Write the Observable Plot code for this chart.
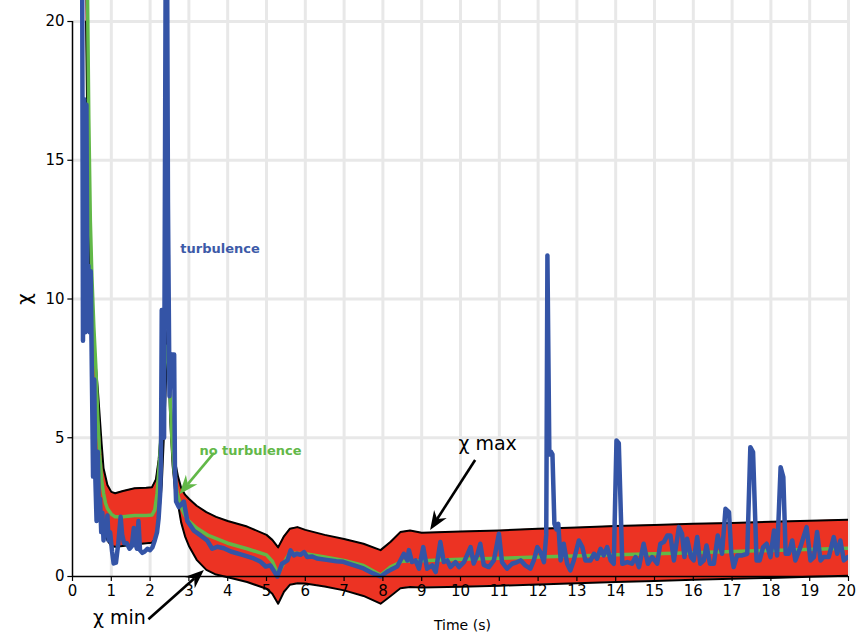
<!DOCTYPE html>
<html><head><meta charset="utf-8">
<script src="https://cdn.jsdelivr.net/npm/d3@7"></script>
<script src="https://cdn.jsdelivr.net/npm/@observablehq/plot@0.6"></script>
<style>body{margin:0;background:#fff;} #chart svg{font-family:"DejaVu Sans",sans-serif;}</style>
</head><body><div id="chart"></div>
<script>
// χ band (min / max envelopes)
const bandX  = [0.35,0.4,0.45,0.5,0.55,0.6,0.65,0.7,0.75,0.8,0.9,1.0,1.1,1.3,1.6,1.9,2.05,2.15,2.22,2.3,2.36,2.42,2.45,2.48,2.52,2.58,2.65,2.72,2.8,2.9,3.0,3.2,3.45,3.7,4.0,4.5,5.0,5.15,5.3,5.45,5.6,5.8,6.0,6.5,7.0,7.5,7.94,8.2,8.45,8.7,9.0,10,11,12,13,14,15,16,17,18,19,20];
const chiMax = [22,17,13,10.5,8.8,7.6,6.8,5.8,4.8,3.9,3.3,3.05,3.0,3.08,3.18,3.2,3.22,3.5,4.2,5.6,7.2,8.6,8.9,8.3,6.6,5.0,4.1,3.6,3.2,2.95,2.8,2.55,2.32,2.15,2.0,1.8,1.5,1.32,1.05,1.45,1.72,1.78,1.68,1.5,1.35,1.18,0.95,1.25,1.6,1.66,1.58,1.62,1.66,1.72,1.77,1.82,1.86,1.9,1.93,1.97,2.01,2.05];
const chiMin = [20,14,10,7.0,5.0,3.6,2.8,2.2,1.85,1.6,1.3,1.1,1.07,1.1,1.15,1.2,1.22,1.4,2.0,3.3,5.2,7.4,8.0,7.3,5.6,4.0,3.0,2.6,1.95,1.45,1.1,0.6,0.24,0.07,-0.03,-0.2,-0.44,-0.62,-0.98,-0.55,-0.3,-0.24,-0.25,-0.36,-0.5,-0.7,-0.98,-0.7,-0.42,-0.38,-0.4,-0.37,-0.33,-0.29,-0.24,-0.2,-0.16,-0.12,-0.08,-0.05,-0.01,0.03];

// no turbulence
const noTurbX = [0.38,0.42,0.46,0.5,0.55,0.6,0.65,0.7,0.75,0.8,0.85,0.9,1.0,1.1,1.3,1.6,1.9,2.05,2.12,2.18,2.25,2.32,2.38,2.44,2.5,2.56,2.62,2.7,2.8,2.9,3.0,3.2,3.5,4.0,4.5,5.0,5.15,5.3,5.45,5.6,6.0,6.5,7.0,7.5,7.94,8.2,8.5,9,10,12,14,16,18,20];
const noTurbY = [22,16.5,12.8,10.8,9.0,7.6,5.8,4.4,3.5,3.0,2.65,2.45,2.25,2.15,2.15,2.2,2.2,2.22,2.4,3.0,4.3,6.2,7.8,8.3,7.0,5.0,3.8,3.0,2.5,2.2,2.0,1.75,1.48,1.2,1.0,0.78,0.55,0.08,0.5,0.85,0.82,0.7,0.58,0.4,0.05,0.35,0.55,0.57,0.62,0.7,0.78,0.86,0.94,1.02];

// turbulence
const turbX = [0.25,0.27,0.30,0.33,0.36,0.38,0.41,0.44,0.47,0.50,0.53,0.56,0.59,0.62,0.65,0.68,0.71,0.74,0.77,0.80,0.84,0.87,0.90,0.93,0.97,1.02,1.06,1.12,1.18,1.24,1.28,1.33,1.40,1.47,1.53,1.58,1.62,1.66,1.70,1.74,1.80,1.86,1.93,2.00,2.06,2.12,2.18,2.22,2.26,2.28,2.30,2.34,2.36,2.40,2.44,2.46,2.50,2.55,2.62,2.64,2.67,2.74,2.80,2.87,2.96,3.13,3.30,3.47,3.60,3.73,3.90,4.08,4.40,4.67,4.85,4.98,5.10,5.28,5.40,5.54,5.62,5.70,5.78,5.88,5.97,6.05,6.18,6.30,6.55,6.80,6.98,7.24,7.50,7.75,7.94,8.11,8.20,8.37,8.54,8.63,8.67,8.75,8.84,8.93,9.04,9.14,9.27,9.36,9.48,9.57,9.66,9.74,9.87,9.96,10.09,10.26,10.34,10.43,10.51,10.60,10.73,10.86,10.99,11.07,11.20,11.33,11.46,11.55,11.67,11.80,11.89,11.98,12.06,12.15,12.21,12.24,12.29,12.33,12.37,12.42,12.47,12.52,12.58,12.66,12.75,12.83,12.92,13.05,13.14,13.22,13.35,13.44,13.52,13.61,13.69,13.78,13.87,13.95,14.02,14.08,14.17,14.30,14.42,14.51,14.60,14.72,14.83,14.94,15.07,15.15,15.24,15.33,15.41,15.50,15.63,15.71,15.77,15.84,15.94,16.01,16.10,16.18,16.27,16.34,16.43,16.53,16.63,16.74,16.83,16.92,16.98,17.04,17.13,17.26,17.39,17.47,17.54,17.63,17.71,17.80,17.89,17.99,18.08,18.16,18.25,18.32,18.38,18.46,18.55,18.63,18.76,18.92,19.02,19.11,19.19,19.28,19.36,19.49,19.62,19.71,19.79,19.88,19.98];
const turbY = [21.5,8.5,17.2,8.8,17.0,10.6,11.2,8.8,11.0,7.2,3.6,7.1,3.5,2.0,4.5,2.4,2.8,1.6,2.3,1.3,1.8,1.5,2.2,1.3,1.6,0.9,0.47,0.5,1.2,2.15,1.5,1.2,1.2,1.0,1.1,1.75,1.2,1.0,2.0,0.95,0.85,0.9,1.0,0.95,1.05,1.3,1.6,2.1,3.0,4.2,9.6,9.6,5.0,21.5,21.5,13.5,6.5,8.0,8.0,3.9,2.7,2.5,2.6,2.7,2.0,1.65,1.48,1.3,1.0,1.07,1.02,0.9,0.77,0.65,0.53,0.36,0.40,0.0,0.46,0.58,0.94,0.76,0.82,0.78,0.88,0.70,0.72,0.65,0.60,0.55,0.53,0.41,0.29,0.11,0.0,0.17,0.24,0.36,0.82,0.58,0.95,0.52,0.58,0.28,1.06,0.28,0.40,0.16,1.24,0.52,0.58,0.34,0.52,0.34,0.52,1.06,0.47,0.76,1.18,0.42,0.34,0.58,1.54,0.52,0.28,0.46,0.52,0.58,0.40,0.28,0.58,1.06,0.88,0.52,1.5,11.57,4.4,4.5,4.4,1.9,1.7,1.9,0.58,1.18,0.46,0.22,0.58,1.3,1.06,0.58,0.58,0.82,0.64,1.0,0.76,1.06,0.58,0.46,4.9,4.8,0.46,0.52,0.46,0.7,0.34,1.18,0.46,0.7,0.46,1.18,1.24,1.48,1.48,0.58,1.78,1.54,0.7,1.36,0.7,0.58,1.42,0.46,0.58,1.12,0.46,0.46,1.48,0.82,2.44,2.32,0.82,0.34,0.76,0.76,0.82,4.66,4.48,0.58,0.58,1.06,1.18,0.7,1.66,0.76,3.94,3.58,0.82,0.82,1.3,0.58,1.06,1.78,0.58,0.7,1.6,0.58,0.7,0.7,1.42,0.82,1.3,0.58,0.7];

// axes
const xTicks = [0,1,2,3,4,5,6,7,8,9,10,11,12,13,14,15,16,17,18,19,20];
const yTicks = [0,5,10,15,20];
const xGrid = [1,2,3,4,5,6,7,8,9,10,11,12,13,14,15,16,17,18,19,20];
const yGrid = [5,10,15,20];

// annotations
const notes = [
  {text:"turbulence", x:2.78, y:11.82, color:"#3d5aa8"},
  {text:"no turbulence", x:3.27, y:4.54, color:"#62b848"}
];
const bigNotes = [
  {text:"χ max", x:10.70, y:4.79},
  {text:"χ min", x:1.21, y:-1.51}
];
const arrows = [
  {x1:10.39, y1:4.18, x2:9.23, y2:1.66, color:"black"},
  {x1:1.97, y1:-1.56, x2:3.40, y2:0.22, color:"black"},
  {x1:3.66, y1:4.44, x2:2.77, y2:2.95, color:"#62b848"}
];

const band = bandX.map((x,i)=>({x, lo: chiMin[i], hi: chiMax[i]}));
const noTurb = noTurbX.map((x,i)=>({x, y: noTurbY[i]}));
const turb = turbX.map((x,i)=>({x, y: turbY[i]}));

const yTop = 20.757, yBottom = -2.126;

// arrows with filled heads, positioned through the plot's own scales
function arrowMark(index, scales) {
  const g = d3.create("svg:g");
  for (const a of arrows) {
    const x1 = scales.x(a.x1), y1 = scales.y(a.y1), x2 = scales.x(a.x2), y2 = scales.y(a.y2);
    const dx = x2 - x1, dy = y2 - y1, len = Math.hypot(dx, dy);
    const ux = dx / len, uy = dy / len, px = -uy, py = ux;
    const L = 19, W = 7.5, N = 13;
    const bx = x2 - ux * L, by = y2 - uy * L;
    const nx = x2 - ux * N, ny = y2 - uy * N;
    g.append("line").attr("x1", x1).attr("y1", y1).attr("x2", nx).attr("y2", ny)
      .attr("stroke", a.color).attr("stroke-width", 2.6);
    g.append("path")
      .attr("d", `M${x2},${y2}L${bx + px * W},${by + py * W}L${nx},${ny}L${bx - px * W},${by - py * W}Z`)
      .attr("fill", a.color);
  }
  return g.node();
}

const plot = Plot.plot({
  width: 856, height: 635,
  marginLeft: 72, marginRight: 8, marginTop: 0, marginBottom: 0,
  x: {domain: [0, 20], axis: null},
  y: {domain: [yBottom, yTop], axis: null},
  style: {fontFamily: "'DejaVu Sans', sans-serif", fontSize: "15px", background: "#fff", color: "black"},
  marks: [
    Plot.ruleX(xGrid, {x: d=>d, y1: 0, y2: yTop, stroke: "#e8e8e8", strokeWidth: 3}),
    Plot.ruleY(yGrid, {y: d=>d, x1: 0, x2: 20, stroke: "#e8e8e8", strokeWidth: 3}),
    Plot.areaY(band, {x: "x", y1: "lo", y2: "hi", fill: "#ec3323", clip: true}),
    Plot.line(band, {x: "x", y: "hi", stroke: "black", strokeWidth: 2, clip: true}),
    Plot.line(band, {x: "x", y: "lo", stroke: "black", strokeWidth: 2, clip: true}),
    Plot.line(noTurb, {x: "x", y: "y", stroke: "#62b848", strokeWidth: 3.5, clip: true}),
    Plot.line(turb, {x: "x", y: "y", stroke: "#3454a6", strokeWidth: 4.5, strokeLinejoin: "round", clip: true}),
    // axes
    Plot.ruleY([0], {x1: 0, x2: 20, stroke: "black", strokeWidth: 1.5}),
    Plot.ruleX([0], {y1: 0, y2: 20, stroke: "black", strokeWidth: 1.5}),
    Plot.ruleX(xTicks, {x: d=>d, y1: 0, y2: -0.18, stroke: "black", strokeWidth: 1.2}),
    Plot.ruleY(yTicks, {y: d=>d, x1: -0.12, x2: 0, stroke: "black", strokeWidth: 1.2}),
    Plot.text(xTicks.slice(0, -1), {x: d=>d, y: 0, dy: 15, text: d=>String(d), fill: "black", fontSize: 15}),
    Plot.text(xTicks.slice(-1), {x: d=>d, y: 0, dy: 15, dx: -2, text: d=>String(d), fill: "black", fontSize: 15}),
    Plot.text(yTicks, {x: 0, y: d=>d, dx: -8, textAnchor: "end", text: d=>String(d), fill: "black", fontSize: 15}),
    Plot.text(["Time (s)"], {x: 10.05, y: 0, dy: 49, text: d=>d, fill: "black", fontSize: 14}),
    Plot.text(["χ"], {x: 0, y: 10, dx: -48, rotate: -90, text: d=>d, fill: "black", fontSize: 20}),
    // annotations
    arrowMark,
    Plot.text(notes, {x: "x", y: "y", text: "text", fill: d=>d.color, textAnchor: "start", fontWeight: "bold", fontSize: 13}),
    Plot.text(bigNotes, {x: "x", y: "y", text: "text", fill: "black", fontSize: 19})
  ]
});
document.getElementById("chart").appendChild(plot);
</script>
</body></html>
